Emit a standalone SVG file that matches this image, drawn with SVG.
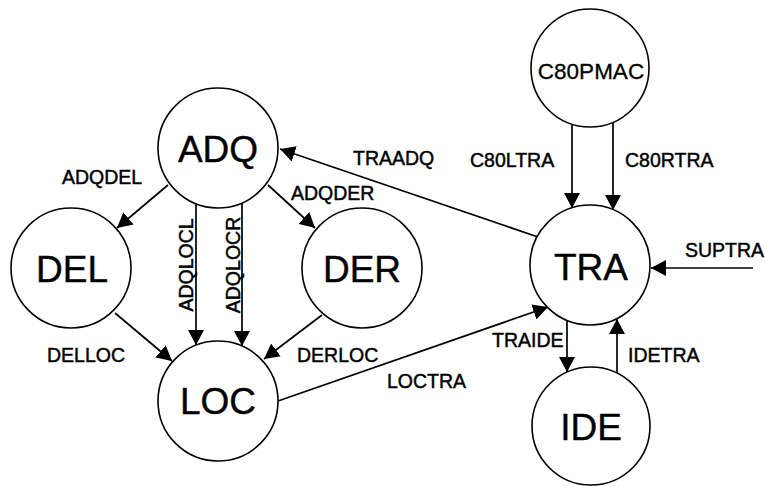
<svg xmlns="http://www.w3.org/2000/svg" width="765" height="486" viewBox="0 0 765 486">
  <defs>
    <marker id="arrow" markerUnits="userSpaceOnUse" markerWidth="16" markerHeight="16" refX="15" refY="8" orient="auto">
      <path d="M0,0 L15,8 L0,16 z" fill="#000"/>
    </marker>
  </defs>
  <style>
    .node circle { fill: #fff; stroke: #000; stroke-width: 1.6; }
    .node text { font-family: "Liberation Sans", Arial, sans-serif; font-size: 37px; text-anchor: middle; fill: #000; stroke: #000; stroke-width: 0.4; }
    .node text.small { font-size: 22.5px; stroke-width: 0.3; }
    .edges line { stroke: #000; stroke-width: 1.7; marker-end: url(#arrow); }
    .lbl { font-family: "Liberation Sans", Arial, sans-serif; font-size: 19.5px; fill: #000; stroke: #000; stroke-width: 0.45; }
  </style>

  <!-- connectors -->
  <g id="edges" class="edges">
    <line x1="168" y1="185" x2="117" y2="228"/>
    <line x1="268" y1="185" x2="315" y2="228"/>
    <line x1="196" y1="204" x2="196" y2="345"/>
    <line x1="242" y1="203" x2="242" y2="346"/>
    <line x1="115" y1="313" x2="172" y2="361"/>
    <line x1="322" y1="315" x2="264" y2="359"/>
    <line x1="538" y1="237" x2="280" y2="149"/>
    <line x1="278" y1="401" x2="548" y2="307"/>
    <line x1="753" y1="268" x2="651" y2="268"/>
    <line x1="572" y1="124" x2="572" y2="208"/>
    <line x1="613" y1="122" x2="613" y2="210"/>
    <line x1="567" y1="320" x2="567" y2="372"/>
    <line x1="617" y1="373" x2="617" y2="319"/>
  </g>

  <!-- connector labels -->
  <g id="edge-labels">
    <text class="lbl" x="62" y="184">ADQDEL</text>
    <text class="lbl" x="291" y="200">ADQDER</text>
    <text class="lbl" x="353" y="165">TRAADQ</text>
    <text class="lbl" x="470" y="167">C80LTRA</text>
    <text class="lbl" x="625" y="167">C80RTRA</text>
    <text class="lbl" x="685" y="257">SUPTRA</text>
    <text class="lbl" x="47" y="362">DELLOC</text>
    <text class="lbl" x="297" y="362">DERLOC</text>
    <text class="lbl" x="387" y="388">LOCTRA</text>
    <text class="lbl" x="492" y="347">TRAIDE</text>
    <text class="lbl" x="628" y="362">IDETRA</text>
    <text class="lbl" text-anchor="middle" transform="translate(193,265) rotate(-90)">ADQLOCL</text>
    <text class="lbl" text-anchor="middle" transform="translate(240,265) rotate(-90)">ADQLOCR</text>
  </g>

  <!-- nodes -->
  <g id="ADQ" class="node"><circle cx="218" cy="148" r="60"/><text x="218" y="162">ADQ</text></g>
  <g id="DEL" class="node"><circle cx="71" cy="268" r="60"/><text x="72" y="282">DEL</text></g>
  <g id="DER" class="node"><circle cx="362" cy="268" r="60"/><text x="362" y="282">DER</text></g>
  <g id="LOC" class="node"><circle cx="218" cy="401" r="60"/><text x="218" y="414">LOC</text></g>
  <g id="TRA" class="node"><circle cx="590" cy="265" r="60"/><text x="591" y="280">TRA</text></g>
  <g id="C80PMAC" class="node"><circle cx="590" cy="68" r="59"/><text class="small" x="591" y="79">C80PMAC</text></g>
  <g id="IDE" class="node"><circle cx="591" cy="426" r="59"/><text x="591" y="440">IDE</text></g>
</svg>
